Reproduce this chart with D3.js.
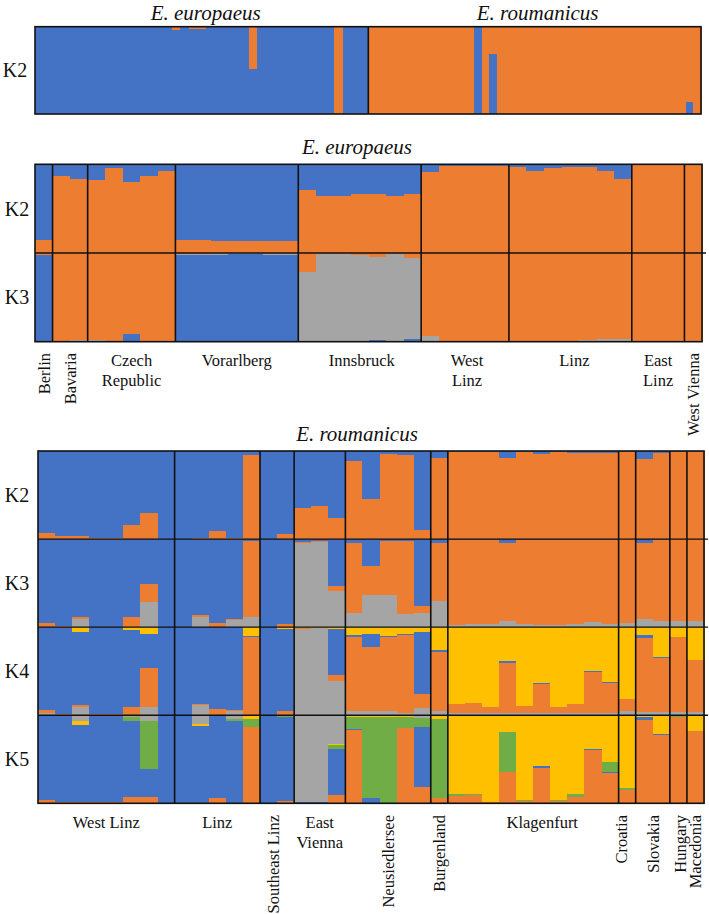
<!DOCTYPE html>
<html><head><meta charset="utf-8">
<script src="https://cdn.jsdelivr.net/npm/d3@7"></script>
<style>
body{margin:0;background:#fff}
text{font-family:"Liberation Serif","Times New Roman","DejaVu Serif",serif;fill:#111}
</style>
</head><body>
<svg id="c" width="709" height="914" font-family="Liberation Serif, Times New Roman, serif"></svg>
<script>
// ---------------- DATA ----------------
// Top panel (K2, orange on top, blue below)
const topEuroOrange = [0,0,0,0,0,0,0,0,0,0, 0,0,0,0,0,0,0.035,0,0.03,0.03, 0,0,0,0,0,0.48,0,0,0,0, 0,0,0,0,0,1,0,0,0];
const topEuroBlue   = [1,1,1,1,1,1,1,1,1,1, 1,1,1,1,1,1,0.965,1,0.97,0.97, 1,1,1,1,1,0.52,1,1,1,1, 1,1,1,1,1,0,1,1,1];
const topRoumOrange = [1,1,1,1,1,1,1,1,1,1, 1,1,1,1,0,1,0.31,1,1,1, 1,1,1,1,1,1,1,1,1,1, 1,1,1,1,1,1,1,1,1,1, 1,1,0.86,1];
const topRoumBlue   = [0,0,0,0,0,0,0,0,0,0, 0,0,0,0,1,0,0.69,0,0,0, 0,0,0,0,0,0,0,0,0,0, 0,0,0,0,0,0,0,0,0,0, 0,0,0.14,0];

// Middle panel: E. europaeus populations
const midPops  = ["Berlin","Bavaria","Czech Republic","Vorarlberg","Innsbruck","West Linz","Linz","East Linz","West Vienna"];
const midSizes = [1,2,5,7,7,5,7,3,1];
const midLabels = ["Berlin","Bavaria","Czech|Republic","Vorarlberg","Innsbruck","West|Linz","Linz","East|Linz","West Vienna"];
// K2 (blue top, orange bottom)
const midK2_blue   = [0.85, 0.13,0.17, 0.18,0.045,0.20,0.13,0.08, 0.85,0.85,0.86,0.86,0.86,0.86,0.86, 0.29,0.36,0.36,0.34,0.33,0.36,0.34, 0.09,0.02,0.02,0.02,0.02, 0.03,0.08,0.04,0.03,0.03,0.075,0.17, 0.01,0.01,0.01, 0.01];
const midK2_orange = [0.15, 0.87,0.83, 0.82,0.955,0.80,0.87,0.92, 0.15,0.15,0.14,0.14,0.14,0.14,0.14, 0.71,0.64,0.64,0.66,0.67,0.64,0.66, 0.91,0.98,0.98,0.98,0.98, 0.97,0.92,0.96,0.97,0.97,0.925,0.83, 0.99,0.99,0.99, 0.99];
// K3 (orange top, gray, blue bottom)
const midK3_orange = [0.02, 0.99,0.98, 0.98,0.99,0.91,0.99,0.99, 0.01,0.01,0.005,0.005,0.005,0.005,0.005, 0.21,0.01,0.01,0.02,0.05,0.01,0.055, 0.94,0.99,0.99,0.99,0.99, 0.99,0.99,0.99,0.99,0.98,0.97,0.97, 1,1,1, 1];
const midK3_gray   = [0, 0.01,0.02, 0.02,0.01,0,0,0.01, 0.01,0.01,0.015,0.01,0.01,0.015,0.015, 0.78,0.98,0.98,0.97,0.93,0.98,0.915, 0.06,0.01,0.01,0.01,0.01, 0.01,0,0,0.01,0.02,0.03,0.03, 0,0,0, 0];
const midK3_blue   = [0.98, 0,0, 0,0,0.09,0.01,0, 0.98,0.98,0.98,0.985,0.985,0.98,0.98, 0.01,0.01,0.01,0.01,0.02,0.01,0.03, 0,0,0,0,0, 0,0.01,0.01,0,0,0,0, 0,0,0, 0];

// Bottom panel: E. roumanicus populations
const botPops  = ["West Linz","Linz","Southeast Linz","East Vienna","Neusiedlersee","Burgenland","Klagenfurt","Croatia","Slovakia","Hungary","Macedonia"];
const botSizes = [8,5,2,3,5,1,10,1,2,1,1];
const botLabels = ["West Linz","Linz","Southeast Linz","East|Vienna","Neusiedlersee","Burgenland","Klagenfurt","Croatia","Slovakia","Hungary","Macedonia"];
// K2 (blue top, orange bottom)
const botK2_blue   = [0.93,0.97,0.96,0.99,0.99,0.84,0.70,1.00, 1.00,0.99,0.91,0.99,0.05, 1.00,0.94, 0.65,0.63,0.76, 0.11,0.54,0.035,0.05,0.90, 0.08, 0.01,0.01,0.01,0.08,0.01,0.03,0.01,0.02,0.02,0.02, 0.01, 0.095,0.02, 0.01, 0.01];
const botK2_orange = [0.07,0.03,0.04,0.01,0.01,0.16,0.30,0.00, 0.00,0.01,0.09,0.01,0.95, 0.00,0.06, 0.35,0.37,0.24, 0.89,0.46,0.965,0.95,0.10, 0.92, 0.99,0.99,0.99,0.92,0.99,0.97,0.99,0.98,0.98,0.98, 0.99, 0.905,0.98, 0.99, 0.99];
// K3 (blue top, orange, gray bottom)
const botK3_blue   = [0.955,0.99,0.88,1,1,0.89,0.51,1, 1,0.86,0.95,0.91,0.02, 1,0.96, 0.03,0.02,0.53, 0.05,0.31,0.02,0.02,0.76, 0.04, 0.005,0.005,0.005,0.045,0.005,0.015,0.005,0.005,0.005,0.005, 0, 0.05,0.01, 0, 0];
const botK3_orange = [0.045,0.01,0.026,0,0,0.11,0.20,0, 0,0.02,0.05,0.01,0.86, 0,0.04, 0.02,0.01,0.06, 0.79,0.33,0.62,0.83,0.08, 0.66, 0.97,0.96,0.96,0.885,0.955,0.955,0.965,0.955,0.93,0.955, 0.955, 0.86,0.915, 0.925, 0.932];
const botK3_gray   = [0,0,0.094,0,0,0,0.29,0, 0,0.12,0,0.08,0.12, 0,0, 0.95,0.97,0.41, 0.16,0.36,0.36,0.15,0.16, 0.30, 0.026,0.04,0.04,0.064,0.04,0.03,0.03,0.04,0.064,0.04, 0.045, 0.087,0.075, 0.075, 0.068];
// K4 (yellow top, blue, orange, gray bottom)
const botK4_yellow = [0,0,0.05,0,0,0.03,0.08,0, 0,0,0,0,0.10, 0,0.02, 0.01,0.01,0.02, 0.09,0.08,0.10,0.08,0.05, 0.26, 0.87,0.86,0.91,0.38,0.90,0.63,0.91,0.87,0.50,0.62, 0.82, 0.09,0.34, 0.11, 0.37];
const botK4_blue   = [0.94,0.985,0.83,0.99,0.99,0.88,0.38,1, 1,0.87,0.93,0.94,0.01, 1,0.93, 0,0,0.52, 0.02,0.14,0.01,0.01,0.71, 0.02, 0,0,0,0.026,0,0.01,0,0,0.01,0.01, 0, 0.03,0.01, 0, 0];
const botK4_orange = [0.04,0.015,0.03,0.01,0.01,0.09,0.45,0, 0,0.01,0.07,0.01,0.89, 0,0.05, 0.01,0,0.07, 0.84,0.73,0.84,0.88,0.16, 0.67, 0.11,0.12,0.07,0.57,0.08,0.34,0.07,0.11,0.47,0.35, 0.13, 0.84,0.61, 0.85, 0.59];
const botK4_gray   = [0.02,0,0.09,0,0,0,0.09,0, 0,0.12,0,0.05,0, 0,0, 0.98,0.99,0.39, 0.05,0.05,0.05,0.03,0.08, 0.05, 0.02,0.02,0.02,0.02,0.02,0.02,0.02,0.02,0.02,0.02, 0.05, 0.04,0.04, 0.04, 0.04];
// K5 (gray top, yellow, green, blue, orange bottom)
const botK5_gray   = [0,0,0.065,0,0,0.02,0.07,0, 0,0.10,0,0.04,0, 0,0, 0.99,0.98,0.33, 0,0,0,0,0.03, 0, 0,0,0,0,0,0,0,0,0,0, 0, 0,0, 0, 0];
const botK5_yellow = [0,0,0.05,0,0,0,0,0, 0,0.02,0,0,0.04, 0,0.01, 0,0,0.01, 0.02,0.02,0.02,0.02,0, 0.04, 0.90,0.89,0.98,0.19,0.96,0.58,0.96,0.89,0.38,0.53, 0.83, 0.02,0.21, 0, 0.18];
const botK5_green  = [0.01,0,0,0,0,0.04,0.54,0, 0,0,0.01,0.03,0.09, 0,0.01, 0,0,0.04, 0.14,0.92,0.98,0.13,0.10, 0.90, 0.02,0.02,0,0.45,0.01,0,0.01,0.04,0,0.11, 0.02, 0,0, 0.02, 0];
const botK5_blue   = [0.95,0.98,0.865,0.99,0.99,0.87,0.32,1, 1,0.88,0.93,0.93,0, 1,0.95, 0.01,0.02,0.53, 0.01,0.06,0,0,0.69, 0, 0,0,0.01,0.01,0,0.02,0,0,0.015,0.015, 0, 0.03,0.01, 0, 0];
const botK5_orange = [0.04,0.02,0.02,0.01,0.01,0.07,0.07,0, 0,0,0.06,0,0.87, 0,0.03, 0,0,0.09, 0.83,0,0,0.85,0.18, 0.06, 0.08,0.09,0.01,0.35,0.03,0.40,0.03,0.07,0.605,0.345, 0.15, 0.95,0.78, 0.98, 0.82];

// ---------------- DRAWING ----------------
const C = {blue:"#4472C4", orange:"#ED7D31", gray:"#A5A5A5", yellow:"#FFC000", green:"#70AD47"};
const svg = d3.select("#c");

function drawRow(g, x, y0, y1, layers) {
  const n = layers[0].values.length;
  const y = d3.scaleLinear().domain([0,1]).range([y0,y1]);
  for (let i = 0; i < n; i++) {
    const tot = d3.sum(layers, l => l.values[i]) || 1;
    let cum = 0;
    layers.forEach(l => {
      const v = l.values[i] / tot;
      if (v > 0) {
        g.append("rect")
          .attr("x", x(i)).attr("width", x.bandwidth() + 1)
          .attr("y", y(cum)).attr("height", y(cum + v) - y(cum) + 0.4)
          .attr("fill", C[l.color])
          .attr("shape-rendering", "crispEdges");
      }
      cum += v;
    });
  }
}

function boundaries(sizes) {
  const b = [0]; sizes.forEach(s => b.push(b[b.length-1] + s)); return b;
}

const lineCol = "#111";

// ---- Top panel ----
{
  const X0 = 35, XD = 368.3, X1 = 701, Y0 = 26.7, Y1 = 114;
  const g = svg.append("g");
  const xe = d3.scaleBand().domain(d3.range(topEuroOrange.length)).range([X0, XD]).padding(0);
  const xr = d3.scaleBand().domain(d3.range(topRoumOrange.length)).range([XD, X1]).padding(0);
  drawRow(g, xe, Y0, Y1, [{color:"orange", values:topEuroOrange},{color:"blue", values:topEuroBlue}]);
  drawRow(g, xr, Y0, Y1, [{color:"orange", values:topRoumOrange},{color:"blue", values:topRoumBlue}]);
  g.append("rect").attr("x",X0).attr("y",Y0).attr("width",X1-X0).attr("height",Y1-Y0)
    .attr("fill","none").attr("stroke",lineCol).attr("stroke-width",1.6);
  g.append("line").attr("x1",XD).attr("x2",XD).attr("y1",Y0).attr("y2",Y1).attr("stroke",lineCol).attr("stroke-width",1.6);
  g.append("text").attr("x",(X0+XD)/2+4).attr("y",20).attr("text-anchor","middle").attr("font-size",21).attr("font-style","italic").text("E. europaeus");
  g.append("text").attr("x",(XD+X1)/2+3).attr("y",20).attr("text-anchor","middle").attr("font-size",21).attr("font-style","italic").text("E. roumanicus");
  g.append("text").attr("x",15).attr("y",(Y0+Y1)/2).attr("dy","0.35em").attr("text-anchor","middle").attr("font-size",20).text("K2");
}

function panel(opts) {
  const {X0, X1, Y0, Y1, sizes, labels, rotated, rows, rowNames, labelY, rotY, title, titleX, titleY, labelDx} = opts;
  const g = svg.append("g");
  const n = d3.sum(sizes);
  const x = d3.scaleBand().domain(d3.range(n)).range([X0, X1]).padding(0);
  const rowY = d3.scaleLinear().domain([0, rows.length]).range([Y0, Y1]);
  rows.forEach((layers, r) => drawRow(g, x, rowY(r), rowY(r+1), layers));
  const b = boundaries(sizes);
  const xb = i => i >= n ? X1 : x(i);
  // borders
  g.append("rect").attr("x",X0).attr("y",Y0).attr("width",X1-X0).attr("height",Y1-Y0)
    .attr("fill","none").attr("stroke",lineCol).attr("stroke-width",1.6);
  b.slice(1, -1).forEach(i => {
    g.append("line").attr("x1",xb(i)).attr("x2",xb(i)).attr("y1",Y0).attr("y2",Y1).attr("stroke",lineCol).attr("stroke-width",1.6);
  });
  for (let r = 1; r < rows.length; r++) {
    g.append("line").attr("x1",X0).attr("x2",X1+4).attr("y1",rowY(r)).attr("y2",rowY(r)).attr("stroke",lineCol).attr("stroke-width",1.4);
  }
  // row labels
  rowNames.forEach((k, r) => {
    g.append("text").attr("x",17).attr("y",(rowY(r)+rowY(r+1))/2).attr("dy","0.35em")
      .attr("text-anchor","middle").attr("font-size",20).text(k);
  });
  // population labels
  labels.forEach((lab, p) => {
    const cx = (xb(b[p]) + xb(b[p+1]))/2 + (labelDx[p] || 0);
    if (rotated.has(lab)) {
      g.append("text").attr("transform",`translate(${cx},${rotY}) rotate(-90)`)
        .attr("text-anchor","end").attr("dy","0.35em").attr("font-size",16.5).text(lab);
    } else {
      lab.split("|").forEach((ln, li) => {
        g.append("text").attr("x",cx).attr("y",labelY + li*19.5).attr("text-anchor","middle")
          .attr("font-size",16.5).text(ln);
      });
    }
  });
  g.append("text").attr("x",titleX).attr("y",titleY).attr("text-anchor","middle")
    .attr("font-size",21).attr("font-style","italic").text(title);
}

panel({
  X0:35, X1:702, Y0:164.3, Y1:341.7, sizes:midSizes, labels:midLabels,
  rotated:new Set(["Berlin","Bavaria","West Vienna"]),
  rows:[
    [{color:"blue",values:midK2_blue},{color:"orange",values:midK2_orange}],
    [{color:"orange",values:midK3_orange},{color:"gray",values:midK3_gray},{color:"blue",values:midK3_blue}]
  ],
  rowNames:["K2","K3"], labelY:366, rotY:353, title:"E. europaeus", titleX:357, titleY:154, labelDx:[0,0,0,0,2,2,4,0,0]
});

panel({
  X0:38, X1:704, Y0:451, Y1:803.3, sizes:botSizes, labels:botLabels,
  rotated:new Set(["Southeast Linz","Neusiedlersee","Burgenland","Croatia","Slovakia","Hungary","Macedonia"]),
  rows:[
    [{color:"blue",values:botK2_blue},{color:"orange",values:botK2_orange}],
    [{color:"blue",values:botK3_blue},{color:"orange",values:botK3_orange},{color:"gray",values:botK3_gray}],
    [{color:"yellow",values:botK4_yellow},{color:"blue",values:botK4_blue},{color:"orange",values:botK4_orange},{color:"gray",values:botK4_gray}],
    [{color:"gray",values:botK5_gray},{color:"yellow",values:botK5_yellow},{color:"green",values:botK5_green},{color:"blue",values:botK5_blue},{color:"orange",values:botK5_orange}]
  ],
  rowNames:["K2","K3","K4","K5"], labelY:828, rotY:815, title:"E. roumanicus", titleX:357, titleY:441, labelDx:[0,0,-4,0,0,0,9,-6,0,2,0]
});
</script>
</body></html>
